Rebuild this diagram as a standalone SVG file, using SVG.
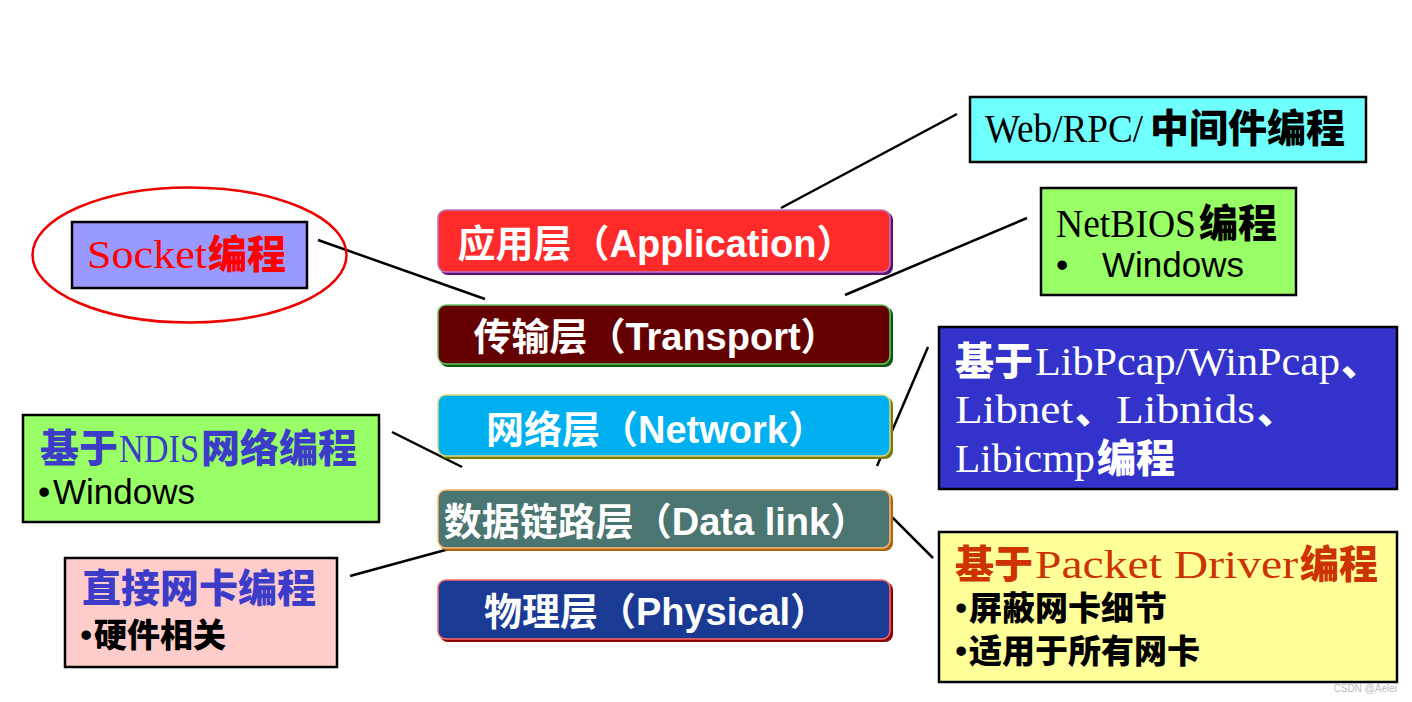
<svg xmlns="http://www.w3.org/2000/svg" width="1412" height="702" viewBox="0 0 1412 702">
<style>
.layer text{font-family:"Liberation Sans","Noto Sans CJK SC",sans-serif;font-weight:bold;font-size:38px;fill:#fff;text-anchor:middle}
.box{stroke:#000;stroke-width:2.5}
.lat{font-family:"Liberation Serif","Noto Sans CJK SC",serif;font-size:40px;font-weight:normal}
.cjk{font-family:"Noto Sans CJK SC",sans-serif;font-size:39px;font-weight:900}
.sm{font-family:"Noto Sans CJK SC",sans-serif;font-size:33px;font-weight:900}
.sans{font-family:"Liberation Sans","Noto Sans CJK SC",sans-serif;font-size:35px}
.conn line{stroke:#000;stroke-width:2.5}
</style>
<rect width="1412" height="702" fill="#fff"/>

<g class="conn" id="connectors">
<line x1="781" y1="208" x2="957" y2="114"/>
<line x1="845" y1="295" x2="1027" y2="218"/>
<line x1="318" y1="240" x2="485" y2="299"/>
<line x1="392" y1="432" x2="462" y2="467"/>
<line x1="350" y1="576" x2="460" y2="546"/>
<line x1="877" y1="466" x2="928" y2="347"/>
<line x1="870" y1="495" x2="933" y2="558"/>
</g>

<g class="layer" id="app">
<rect x="440" y="212" width="453" height="63" rx="8" fill="#601070"/>
<rect x="438" y="210" width="452" height="62" rx="8" fill="#FF2B2B" stroke="#B878C8" stroke-width="1.5"/>
<text x="656" y="257">应用层（Application）</text>
</g>
<g class="layer" id="transport">
<rect x="440" y="307" width="453" height="60" rx="8" fill="#0A5A0A"/>
<rect x="438" y="305" width="452" height="59" rx="8" fill="#650000" stroke="#66C266" stroke-width="1.5"/>
<text x="656" y="350">传输层（Transport）</text>
</g>
<g class="layer" id="network">
<rect x="440" y="397" width="453" height="62" rx="8" fill="#7A7A10"/>
<rect x="438" y="395" width="452" height="61" rx="8" fill="#00B0F0" stroke="#D6D67A" stroke-width="1.5"/>
<text x="656" y="443">网络层（Network）</text>
</g>
<g class="layer" id="datalink">
<rect x="440" y="492" width="453" height="59" rx="8" fill="#A86810"/>
<rect x="438" y="490" width="452" height="58" rx="8" fill="#4A7571" stroke="#FFB870" stroke-width="1.5"/>
<text x="656" y="535">数据链路层（Data link）</text>
</g>
<g class="layer" id="physical">
<rect x="440" y="582" width="453" height="60" rx="8" fill="#8A0000"/>
<rect x="438" y="580" width="452" height="59" rx="8" fill="#1A3A94" stroke="#FF6A6A" stroke-width="1.5"/>
<text x="656" y="625">物理层（Physical）</text>
</g>

<g id="web">
<rect class="box" x="970" y="97" width="396" height="65" fill="#6FFFFF"/>
<text y="142"><tspan class="lat" x="985" font-size="36" textLength="158" lengthAdjust="spacingAndGlyphs">Web/RPC/</tspan><tspan class="cjk" x="1150">中间件编程</tspan></text>
</g>

<g id="netbios">
<rect class="box" x="1041" y="188" width="255" height="107" fill="#99FF66"/>
<text y="237"><tspan class="lat" x="1056" font-size="37" textLength="140" lengthAdjust="spacingAndGlyphs">NetBIOS</tspan><tspan class="cjk" x="1199">编程</tspan></text>
<text y="277" class="sans"><tspan x="1056">•</tspan><tspan x="1102">Windows</tspan></text>
</g>

<g id="libpcap" fill="#fff">
<rect class="box" x="939" y="327" width="458" height="162" fill="#3333CC"/>
<text y="375"><tspan class="cjk" x="955">基于</tspan><tspan class="lat" x="1035" textLength="305" lengthAdjust="spacingAndGlyphs">LibPcap/WinPcap</tspan><tspan class="cjk" x="1341">、</tspan></text>
<text y="423"><tspan class="lat" x="955" textLength="118" lengthAdjust="spacingAndGlyphs">Libnet</tspan><tspan class="cjk" x="1075">、</tspan><tspan class="lat" x="1116" textLength="139" lengthAdjust="spacingAndGlyphs">Libnids</tspan><tspan class="cjk" x="1257">、</tspan></text>
<text y="472"><tspan class="lat" x="955" textLength="140" lengthAdjust="spacingAndGlyphs">Libicmp</tspan><tspan class="cjk" x="1097">编程</tspan></text>
</g>

<g id="packetdriver">
<rect class="box" x="939" y="532" width="458" height="150" fill="#FFFF99"/>
<text y="578" fill="#CC3300"><tspan class="cjk" x="955">基于</tspan><tspan class="lat" x="1035" textLength="263" lengthAdjust="spacingAndGlyphs">Packet Driver</tspan><tspan class="cjk" x="1300">编程</tspan></text>
<text y="620"><tspan class="sans" x="955">•</tspan><tspan class="sm" x="969">屏蔽网卡细节</tspan></text>
<text y="663"><tspan class="sans" x="955">•</tspan><tspan class="sm" x="969">适用于所有网卡</tspan></text>
</g>

<g id="socket">
<ellipse cx="189.5" cy="255" rx="157" ry="67.5" fill="none" stroke="#EE0000" stroke-width="2.5"/>
<rect class="box" x="72" y="222" width="235" height="66" fill="#9999FF"/>
<text y="268" fill="#FF0000"><tspan class="lat" x="87" textLength="120" lengthAdjust="spacingAndGlyphs">Socket</tspan><tspan class="cjk" x="208" font-size="40">编程</tspan></text>
</g>

<g id="ndis">
<rect class="box" x="23" y="415" width="356" height="107" fill="#99FF66"/>
<text y="462" fill="#3C3CC8"><tspan class="cjk" x="40">基于</tspan><tspan class="lat" x="119" font-size="35" textLength="80" lengthAdjust="spacingAndGlyphs">NDIS</tspan><tspan class="cjk" x="201">网络编程</tspan></text>
<text y="504" class="sans"><tspan x="38">•</tspan><tspan x="53">Windows</tspan></text>
</g>

<g id="nic">
<rect class="box" x="65" y="558" width="272" height="109" fill="#FFCCCC"/>
<text y="602" class="cjk" x="82" fill="#3C3CC8" font-weight="bold">直接网卡编程</text>
<text y="647"><tspan class="sans" x="80">•</tspan><tspan class="sm" x="94">硬件相关</tspan></text>
</g>

<text x="1397" y="692" font-family="Liberation Sans,sans-serif" font-size="10" fill="#BBBBBB" text-anchor="end">CSDN @Aelei</text>
</svg>
